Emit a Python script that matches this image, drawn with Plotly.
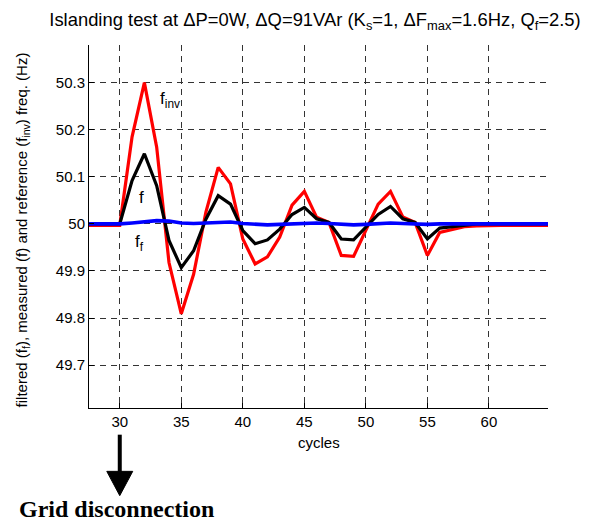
import plotly.graph_objects as go

cycles = list(range(27, 66))

f_inv = [49.997, 49.997, 49.997, 49.997, 50.185, 50.300, 50.163, 49.918, 49.809, 49.893,
         50.025, 50.120, 50.085, 49.968, 49.915, 49.930, 49.972, 50.040, 50.069, 50.014,
         50.003, 49.933, 49.931, 49.986, 50.042, 50.069, 50.015, 50.003, 49.933, 49.982,
         49.988, 49.994, 49.996, 49.997, 49.997, 49.997, 49.997, 49.997, 49.997]

f_meas = [50.000, 50.000, 50.000, 50.000, 50.092, 50.149, 50.081, 49.965, 49.907, 49.943,
          50.010, 50.060, 50.042, 49.986, 49.958, 49.966, 49.989, 50.020, 50.035, 50.011,
          50.003, 49.968, 49.966, 49.994, 50.020, 50.037, 50.011, 50.003, 49.968, 49.991,
          49.994, 49.998, 50.000, 50.000, 50.000, 50.000, 50.000, 50.000, 50.000]

f_filt = [50.000, 50.000, 50.000, 50.000, 50.002, 50.005, 50.007, 50.006, 50.002, 50.001,
          50.002, 50.003, 50.004, 50.001, 49.999, 49.998, 49.999, 50.000, 50.002, 50.002,
          50.001, 49.999, 49.998, 49.999, 50.001, 50.002, 50.001, 50.000, 49.999, 50.000,
          50.000, 50.000, 50.000, 50.000, 50.000, 50.000, 50.000, 50.000, 50.000]

x_ticks = [30, 35, 40, 45, 50, 55, 60]
y_ticks = [49.7, 49.8, 49.9, 50.0, 50.1, 50.2, 50.3]
y_tick_labels = ["49.7", "49.8", "49.9", "50", "50.1", "50.2", "50.3"]

x_range = [27.5, 64.8]
y_range = [49.609, 50.38]

W, H = 589, 524
ML, MR, MT, MB = 88.6, 40.5, 45, 115.7
PW = W - ML - MR
PH = H - MT - MB


def px_x(p):
    return (p - ML) / PW


def px_y(p):
    return (H - MB - p) / PH


SANS = "Liberation Sans, Arial, sans-serif"

fig = go.Figure()
fig.add_trace(go.Scatter(x=cycles, y=f_inv, mode="lines", line=dict(color="#ff0000", width=3.2), showlegend=False))
fig.add_trace(go.Scatter(x=cycles, y=f_meas, mode="lines", line=dict(color="#000000", width=3.2), showlegend=False))
fig.add_trace(go.Scatter(x=cycles, y=f_filt, mode="lines", line=dict(color="#0000ff", width=3.6), showlegend=False))

axis_common = dict(
    showline=True, linecolor="black", linewidth=1, mirror=False,
    ticks="inside", ticklen=5, tickcolor="black", tickwidth=1,
    showgrid=True, gridcolor="#333333", gridwidth=1, griddash="6px,5px",
    zeroline=False, tickfont=dict(family=SANS, size=15, color="black"),
)

fig.update_layout(
    width=W, height=H,
    margin=dict(l=ML, r=MR, t=MT, b=MB, pad=0),
    paper_bgcolor="white", plot_bgcolor="white",
    title=dict(
        text="Islanding test at ΔP=0W, ΔQ=91VAr (K<sub>s</sub>=1, ΔF<sub>max</sub>=1.6Hz, Q<sub>f</sub>=2.5)",
        font=dict(family=SANS, size=18.4, color="black"),
        x=315 / W, xanchor="center",
        y=1 - 20 / H, yanchor="middle", yref="container", xref="container",
    ),
    xaxis=dict(range=x_range, tickvals=x_ticks, **axis_common),
    yaxis=dict(range=y_range, tickvals=y_ticks, ticktext=y_tick_labels, **axis_common),
)

annotations = [
    dict(text="cycles", x=px_x(319), y=px_y(443), xanchor="center", yanchor="middle",
         font=dict(family=SANS, size=15, color="black")),
    dict(text="filtered (f<sub>f</sub>), measured (f) and reference (f<sub>inv</sub>) freq. (Hz)",
         x=px_x(22), y=px_y(230), xanchor="center", yanchor="middle", textangle=-90,
         font=dict(family=SANS, size=15, color="black")),
    dict(text="f<sub>inv</sub>", x=px_x(158), y=px_y(100), xanchor="left", yanchor="middle",
         font=dict(family=SANS, size=17, color="black")),
    dict(text="f", x=px_x(136.5), y=px_y(198), xanchor="left", yanchor="middle",
         font=dict(family=SANS, size=17, color="black")),
    dict(text="f<sub>f</sub>", x=px_x(133), y=px_y(243), xanchor="left", yanchor="middle",
         font=dict(family=SANS, size=17, color="black")),
    dict(text="<b>Grid disconnection</b>", x=px_x(16), y=px_y(509), xanchor="left", yanchor="middle",
         font=dict(family="Liberation Serif, Times New Roman, serif", size=24, color="black")),
]
for a in annotations:
    a.update(xref="paper", yref="paper", showarrow=False)
fig.update_layout(annotations=annotations)

# arrow marking the grid disconnection at cycle 30
x30 = (30 - x_range[0]) / (x_range[1] - x_range[0])
fig.add_shape(type="line", xref="paper", yref="paper", x0=x30, x1=x30, y0=px_y(435), y1=px_y(474),
              line=dict(color="black", width=4))
hw = 13 / PW
fig.add_shape(type="path", xref="paper", yref="paper",
              path=f"M {x30 - hw},{px_y(471.7)} L {x30 + hw},{px_y(471.7)} L {x30},{px_y(496)} Z",
              fillcolor="black", line=dict(color="black", width=1))

fig.write_html("out.html", config={"displayModeBar": False},
               post_script="document.body.style.margin='0';document.body.style.overflow='hidden';")
